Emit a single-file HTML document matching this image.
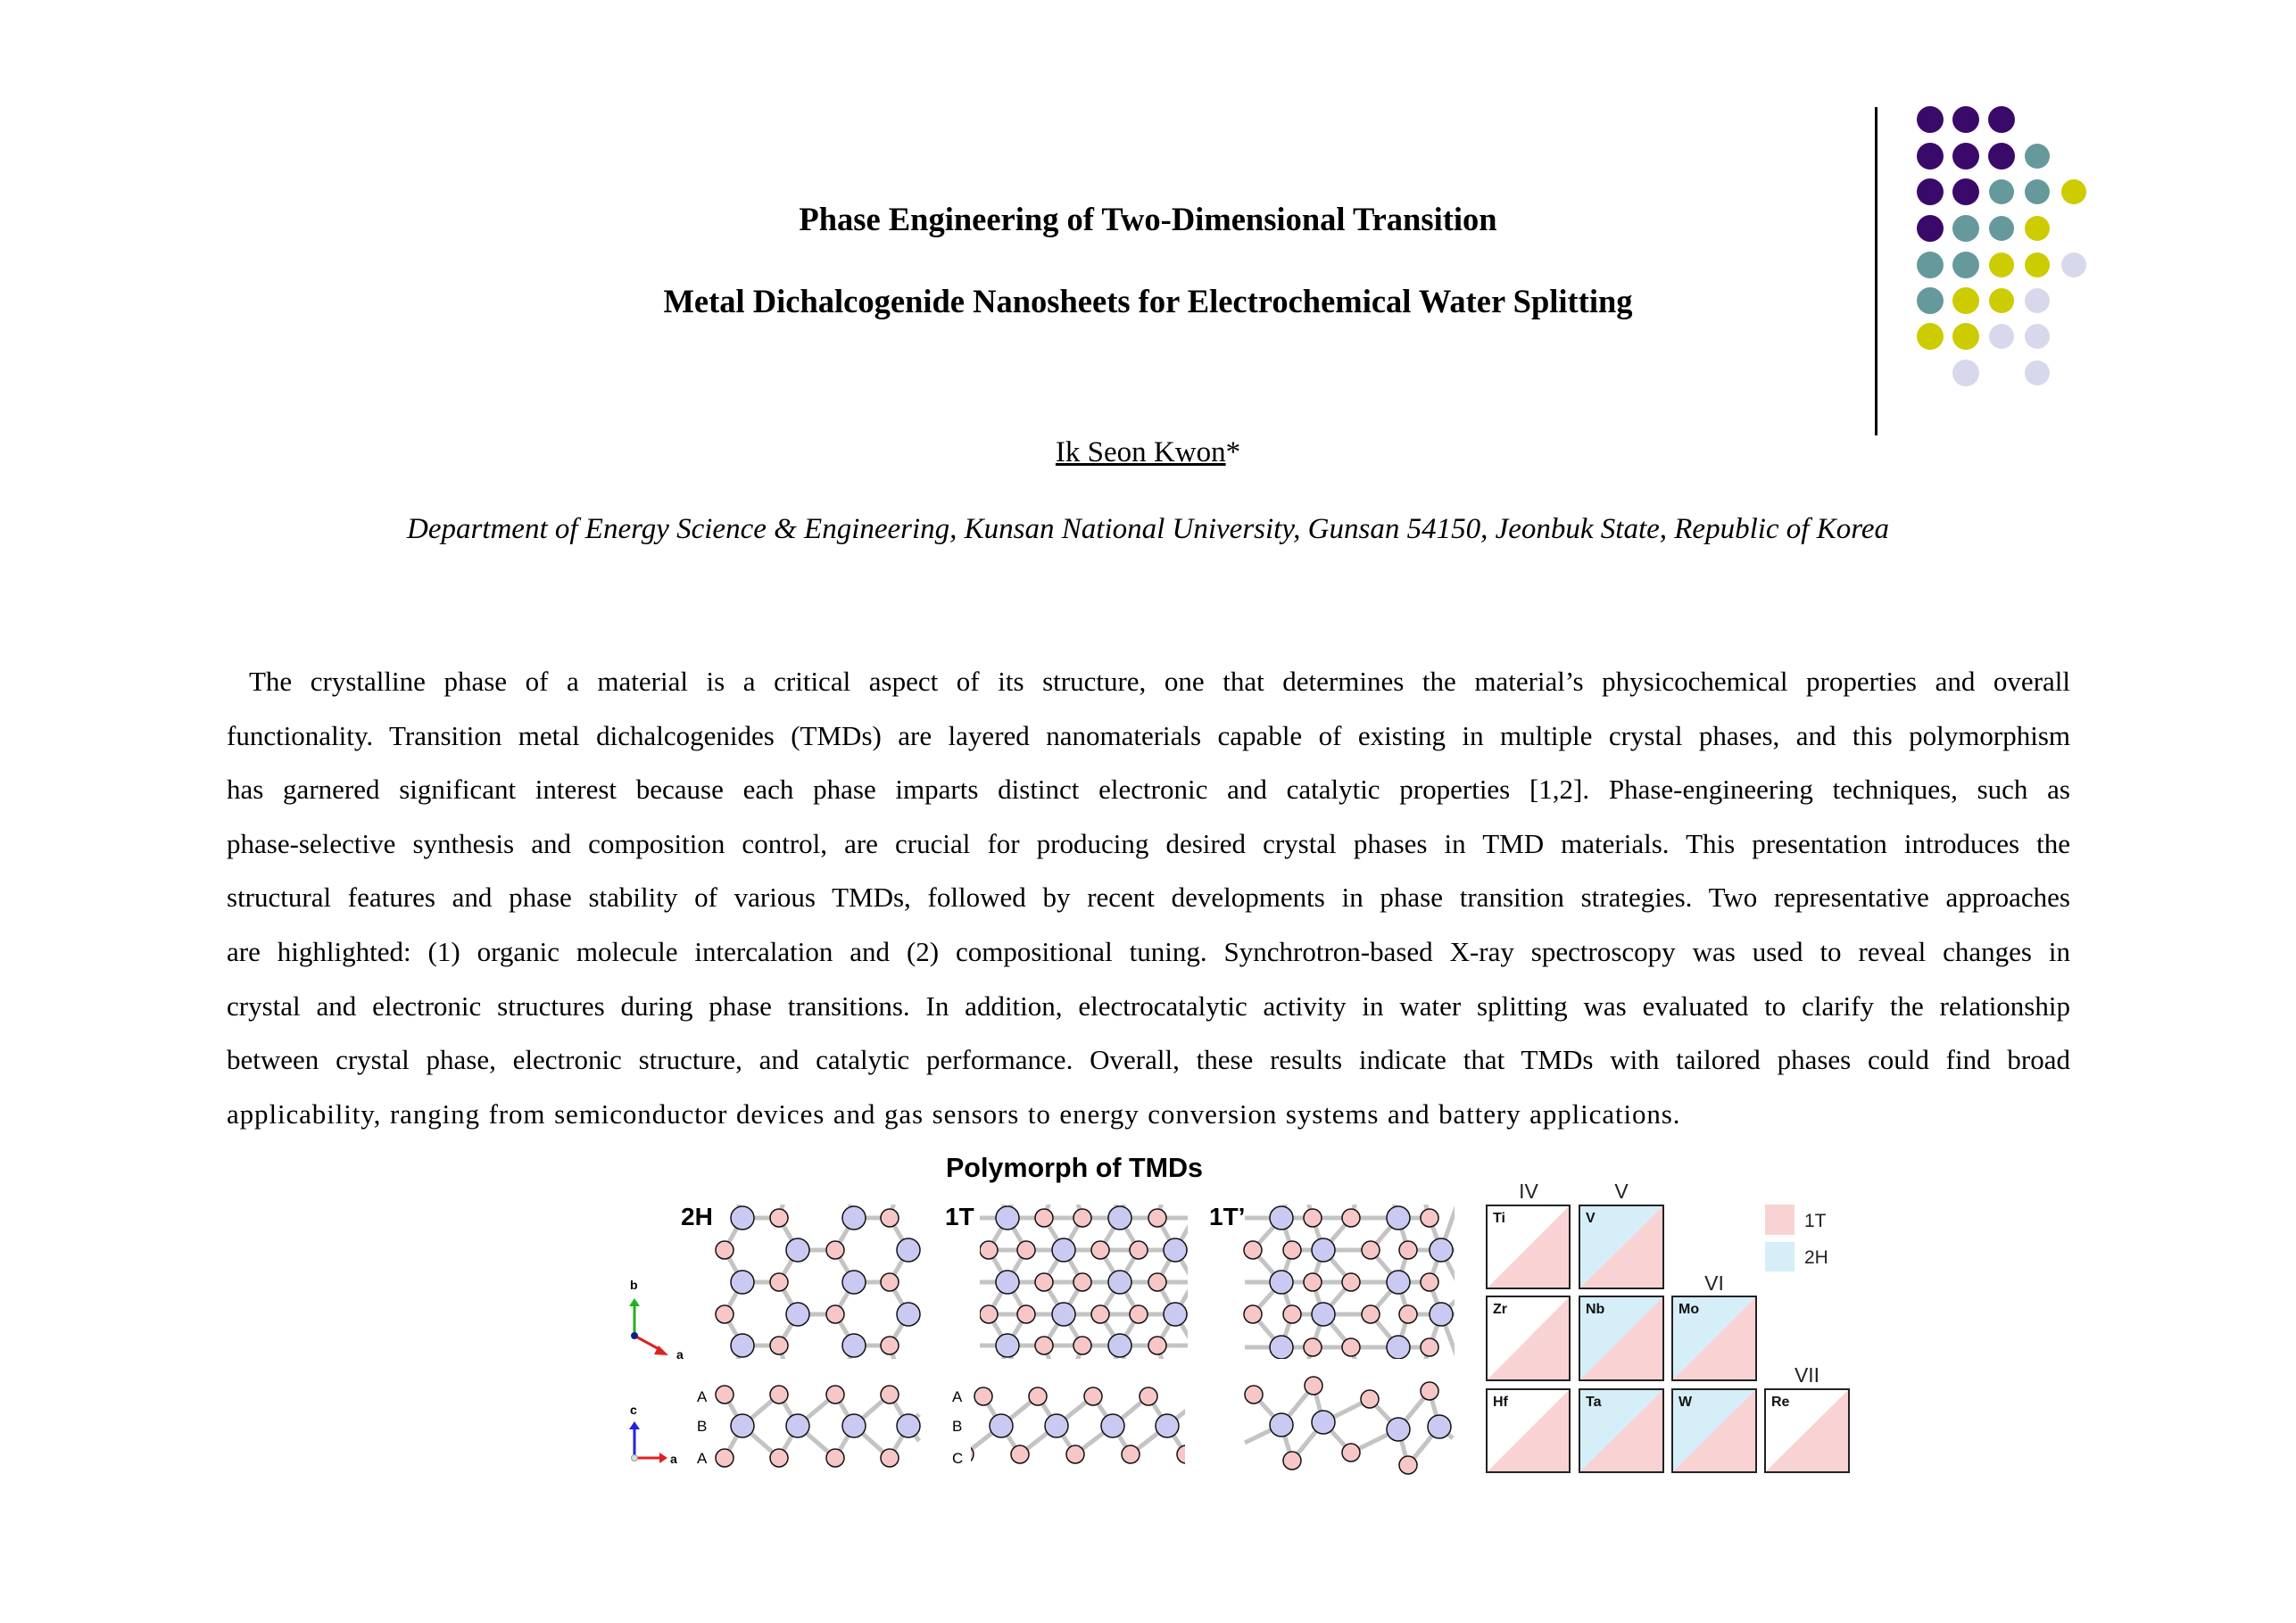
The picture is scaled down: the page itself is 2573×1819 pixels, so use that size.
<!DOCTYPE html>
<html><head><meta charset="utf-8">
<style>
html,body{margin:0;padding:0;background:#fff;}
body{width:2573px;height:1819px;position:relative;overflow:hidden;font-family:"Liberation Serif",serif;color:#000;}
.abs{position:absolute;white-space:nowrap;line-height:1;}
.t{font-weight:bold;font-size:36.5px;left:0;width:2573px;text-align:center;}
#para{position:absolute;left:254px;top:734px;width:2066px;font-size:31px;line-height:60.6px;}
#para div{text-align:justify;text-align-last:justify;white-space:nowrap;}
#para div.last{text-align-last:left;}
.sans{font-family:"Liberation Sans",sans-serif;}
</style></head><body>
<div class="abs t" style="top:228px">Phase Engineering of Two-Dimensional Transition</div>
<div class="abs t" style="top:320px">Metal Dichalcogenide Nanosheets for Electrochemical Water Splitting</div>
<div class="abs" style="top:491px;left:0;width:2573px;text-align:center;font-size:33px"><u>Ik Seon Kwon</u>*</div>
<div class="abs" style="top:577px;left:0;width:2573px;text-align:center;font-size:33px;font-style:italic">Department of Energy Science &amp; Engineering, Kunsan National University, Gunsan 54150, Jeonbuk State, Republic of Korea</div>
<div id="para">
<div style="padding-left:25px">The crystalline phase of a material is a critical aspect of its structure, one that determines the material’s physicochemical properties and overall</div>
<div>functionality. Transition metal dichalcogenides (TMDs) are layered nanomaterials capable of existing in multiple crystal phases, and this polymorphism</div>
<div>has garnered significant interest because each phase imparts distinct electronic and catalytic properties [1,2]. Phase-engineering techniques, such as</div>
<div>phase-selective synthesis and composition control, are crucial for producing desired crystal phases in TMD materials. This presentation introduces the</div>
<div>structural features and phase stability of various TMDs, followed by recent developments in phase transition strategies. Two representative approaches</div>
<div>are highlighted: (1) organic molecule intercalation and (2) compositional tuning. Synchrotron-based X-ray spectroscopy was used to reveal changes in</div>
<div>crystal and electronic structures during phase transitions. In addition, electrocatalytic activity in water splitting was evaluated to clarify the relationship</div>
<div>between crystal phase, electronic structure, and catalytic performance. Overall, these results indicate that TMDs with tailored phases could find broad</div>
<div class="last" style="letter-spacing:0.9px;word-spacing:1px">applicability, ranging from semiconductor devices and gas sensors to energy conversion systems and battery applications.</div>
</div>
<div class="abs sans" style="top:1294px;left:954px;width:500px;text-align:center;font-size:30.5px;font-weight:bold">Polymorph of TMDs</div>

<svg style="position:absolute;left:0;top:0" width="2573" height="1819" xmlns="http://www.w3.org/2000/svg">
<defs>
<clipPath id="c2h"><rect x="795" y="1350" width="240" height="173"/></clipPath>
<clipPath id="c1t"><rect x="1098" y="1350" width="233" height="173"/></clipPath>
<clipPath id="c1tp"><rect x="1390" y="1350" width="240" height="173"/></clipPath>
<clipPath id="s1t"><rect x="1088" y="1545" width="240" height="105"/></clipPath>
</defs>
<rect x="2101" y="120" width="3" height="368" fill="#000"/>
<g>
<circle cx="2163" cy="134" r="15" fill="#3a0a6a"/><circle cx="2203" cy="134" r="15" fill="#3a0a6a"/><circle cx="2243" cy="134" r="15" fill="#3a0a6a"/>
<circle cx="2163" cy="175" r="15" fill="#3a0a6a"/><circle cx="2203" cy="175" r="15" fill="#3a0a6a"/><circle cx="2243" cy="175" r="15" fill="#3a0a6a"/><circle cx="2283" cy="175" r="14" fill="#66999b"/>
<circle cx="2163" cy="215" r="15" fill="#3a0a6a"/><circle cx="2203" cy="215" r="15" fill="#3a0a6a"/><circle cx="2243" cy="215" r="14" fill="#66999b"/><circle cx="2283" cy="215" r="14" fill="#66999b"/><circle cx="2324" cy="215" r="14" fill="#cccc00"/>
<circle cx="2163" cy="256" r="15" fill="#3a0a6a"/><circle cx="2203" cy="256" r="15" fill="#66999b"/><circle cx="2243" cy="256" r="14" fill="#66999b"/><circle cx="2283" cy="256" r="14" fill="#cccc00"/>
<circle cx="2163" cy="297" r="15" fill="#66999b"/><circle cx="2203" cy="297" r="15" fill="#66999b"/><circle cx="2243" cy="297" r="14" fill="#cccc00"/><circle cx="2283" cy="297" r="14" fill="#cccc00"/><circle cx="2324" cy="297" r="14" fill="#d8d8ec"/>
<circle cx="2163" cy="337" r="15" fill="#66999b"/><circle cx="2203" cy="337" r="15" fill="#cccc00"/><circle cx="2243" cy="337" r="14" fill="#cccc00"/><circle cx="2283" cy="337" r="14" fill="#d8d8ec"/>
<circle cx="2163" cy="377" r="15" fill="#cccc00"/><circle cx="2203" cy="377" r="15" fill="#cccc00"/><circle cx="2243" cy="377" r="14" fill="#d8d8ec"/><circle cx="2283" cy="377" r="14" fill="#d8d8ec"/>
<circle cx="2203" cy="418" r="15" fill="#d8d8ec"/><circle cx="2283" cy="418" r="14" fill="#d8d8ec"/>
</g>

<g stroke-width="3" fill="none">
<line x1="711" y1="1497" x2="711" y2="1462" stroke="#22b022"/><polygon points="705,1464 717,1464 711,1455" fill="#22b022" stroke="none"/>
<line x1="711" y1="1497" x2="742" y2="1514" stroke="#dd2222"/><polygon points="738,1508 733,1518 749,1519" fill="#dd2222" stroke="none"/>
<circle cx="711" cy="1497" r="4" fill="#102080" stroke="none"/>
<line x1="711" y1="1634" x2="711" y2="1600" stroke="#2222dd"/><polygon points="705,1602 717,1602 711,1593" fill="#2222dd" stroke="none"/>
<line x1="711" y1="1634" x2="741" y2="1634" stroke="#dd2222"/><polygon points="739,1628 739,1640 748,1634" fill="#dd2222" stroke="none"/>
<circle cx="711" cy="1634" r="3.5" fill="#ddd" stroke="#999" stroke-width="1"/>
</g>
<g font-family="Liberation Sans, sans-serif" font-weight="bold" font-size="14">
<text x="706" y="1445">b</text><text x="758" y="1523">a</text>
<text x="706" y="1585">c</text><text x="751" y="1640">a</text>
</g>
<g font-family="Liberation Sans, sans-serif" font-weight="bold" font-size="28">
<text x="763" y="1373">2H</text><text x="1059" y="1373">1T</text><text x="1355" y="1373">1T’</text>
</g>
<g font-family="Liberation Sans, sans-serif" font-size="17">
<text x="781" y="1571">A</text><text x="781" y="1604">B</text><text x="781" y="1640">A</text>
<text x="1067" y="1571">A</text><text x="1067" y="1604">B</text><text x="1067" y="1640">C</text>
</g>

<g clip-path="url(#c2h)">
<g stroke="#c4c4c4" stroke-width="5">
<line x1="832" y1="1365" x2="873" y2="1365"/><line x1="957" y1="1365" x2="997" y2="1365"/>
<line x1="832" y1="1437" x2="873" y2="1437"/><line x1="957" y1="1437" x2="997" y2="1437"/>
<line x1="832" y1="1508" x2="873" y2="1508"/><line x1="957" y1="1508" x2="997" y2="1508"/>
<line x1="894" y1="1401" x2="936" y2="1401"/><line x1="894" y1="1473" x2="936" y2="1473"/>
<polyline fill="none" points="822,1330 832,1365 812,1401 832,1437 812,1473 832,1508 822,1540"/>
<polyline fill="none" points="883,1330 873,1365 894,1401 873,1437 894,1473 873,1508 883,1540"/>
<polyline fill="none" points="947,1330 957,1365 936,1401 957,1437 936,1473 957,1508 947,1540"/>
<polyline fill="none" points="1007,1330 997,1365 1018,1401 997,1437 1018,1473 997,1508 1007,1540"/>
</g>
<g stroke="#111" stroke-width="1.5">
<g fill="#c9c9f2">
<circle cx="832" cy="1365" r="13"/><circle cx="957" cy="1365" r="13"/><circle cx="832" cy="1437" r="13"/><circle cx="957" cy="1437" r="13"/><circle cx="832" cy="1508" r="13"/><circle cx="957" cy="1508" r="13"/>
<circle cx="894" cy="1401" r="13"/><circle cx="1018" cy="1401" r="13"/><circle cx="894" cy="1473" r="13"/><circle cx="1018" cy="1473" r="13"/>
</g>
<g fill="#f7c6c6">
<circle cx="873" cy="1365" r="10"/><circle cx="997" cy="1365" r="10"/><circle cx="873" cy="1437" r="10"/><circle cx="997" cy="1437" r="10"/><circle cx="873" cy="1508" r="10"/><circle cx="997" cy="1508" r="10"/>
<circle cx="812" cy="1401" r="10"/><circle cx="936" cy="1401" r="10"/><circle cx="812" cy="1473" r="10"/><circle cx="936" cy="1473" r="10"/>
</g></g>
</g>

<g stroke="#c4c4c4" stroke-width="5" fill="none">
<polyline points="812,1563 832,1598 873,1563 894,1598 936,1563 957,1598 997,1563 1018,1598 1030,1585"/>
<polyline points="812,1634 832,1598 873,1634 894,1598 936,1634 957,1598 997,1634 1018,1598 1030,1615"/>
</g>
<g stroke="#111" stroke-width="1.5">
<g fill="#c9c9f2"><circle cx="832" cy="1598" r="13"/><circle cx="894" cy="1598" r="13"/><circle cx="957" cy="1598" r="13"/><circle cx="1018" cy="1598" r="13"/></g>
<g fill="#f7c6c6"><circle cx="812" cy="1563" r="10"/><circle cx="873" cy="1563" r="10"/><circle cx="936" cy="1563" r="10"/><circle cx="997" cy="1563" r="10"/>
<circle cx="812" cy="1634" r="10"/><circle cx="873" cy="1634" r="10"/><circle cx="936" cy="1634" r="10"/><circle cx="997" cy="1634" r="10"/></g>
</g>

<g clip-path="url(#c1t)">
<g stroke="#c4c4c4" stroke-width="5" fill="none">
<line x1="1090" y1="1365" x2="1340" y2="1365"/><line x1="1090" y1="1401" x2="1340" y2="1401"/><line x1="1090" y1="1437" x2="1340" y2="1437"/><line x1="1090" y1="1473" x2="1340" y2="1473"/><line x1="1090" y1="1508" x2="1340" y2="1508"/>
<polyline points="1119,1330 1129,1365 1108,1401 1129,1437 1108,1473 1129,1508 1119,1540"/>
<polyline points="1139,1330 1129,1365 1150,1401 1129,1437 1150,1473 1129,1508 1139,1540"/>
<polyline points="1182,1330 1170,1365 1192,1401 1170,1437 1192,1473 1170,1508 1182,1540"/>
<polyline points="1202,1330 1213,1365 1192,1401 1213,1437 1192,1473 1213,1508 1202,1540"/>
<polyline points="1245,1330 1255,1365 1233,1401 1255,1437 1233,1473 1255,1508 1245,1540"/>
<polyline points="1265,1330 1255,1365 1276,1401 1255,1437 1276,1473 1255,1508 1265,1540"/>
<polyline points="1307,1330 1297,1365 1317,1401 1297,1437 1317,1473 1297,1508 1307,1540"/>
<polyline points="1327,1330 1338,1365 1317,1401 1338,1437 1317,1473 1338,1508"/>
</g>
<g stroke="#111" stroke-width="1.5">
<g fill="#c9c9f2">
<circle cx="1129" cy="1365" r="13"/><circle cx="1255" cy="1365" r="13"/><circle cx="1129" cy="1437" r="13"/><circle cx="1255" cy="1437" r="13"/><circle cx="1129" cy="1508" r="13"/><circle cx="1255" cy="1508" r="13"/>
<circle cx="1192" cy="1401" r="13"/><circle cx="1317" cy="1401" r="13"/><circle cx="1192" cy="1473" r="13"/><circle cx="1317" cy="1473" r="13"/>
</g>
<g fill="#f7c6c6">
<circle cx="1170" cy="1365" r="10"/><circle cx="1213" cy="1365" r="10"/><circle cx="1297" cy="1365" r="10"/>
<circle cx="1170" cy="1437" r="10"/><circle cx="1213" cy="1437" r="10"/><circle cx="1297" cy="1437" r="10"/>
<circle cx="1170" cy="1508" r="10"/><circle cx="1213" cy="1508" r="10"/><circle cx="1297" cy="1508" r="10"/>
<circle cx="1108" cy="1401" r="10"/><circle cx="1150" cy="1401" r="10"/><circle cx="1233" cy="1401" r="10"/><circle cx="1276" cy="1401" r="10"/>
<circle cx="1108" cy="1473" r="10"/><circle cx="1150" cy="1473" r="10"/><circle cx="1233" cy="1473" r="10"/><circle cx="1276" cy="1473" r="10"/>
</g></g>
</g>

<g clip-path="url(#s1t)">
<g stroke="#c4c4c4" stroke-width="5" fill="none">
<line x1="1102" y1="1565" x2="1122" y2="1598"/><line x1="1122" y1="1598" x2="1163" y2="1565"/><line x1="1122" y1="1598" x2="1143" y2="1630"/><line x1="1122" y1="1598" x2="1081" y2="1630"/>
<line x1="1163" y1="1565" x2="1184" y2="1598"/><line x1="1184" y1="1598" x2="1225" y2="1565"/><line x1="1184" y1="1598" x2="1205" y2="1630"/><line x1="1184" y1="1598" x2="1143" y2="1630"/>
<line x1="1225" y1="1565" x2="1247" y2="1598"/><line x1="1247" y1="1598" x2="1287" y2="1565"/><line x1="1247" y1="1598" x2="1267" y2="1630"/><line x1="1247" y1="1598" x2="1205" y2="1630"/>
<line x1="1287" y1="1565" x2="1308" y2="1598"/><line x1="1308" y1="1598" x2="1349" y2="1565"/><line x1="1308" y1="1598" x2="1329" y2="1630"/><line x1="1308" y1="1598" x2="1267" y2="1630"/>
</g>
<g stroke="#111" stroke-width="1.5">
<g fill="#c9c9f2"><circle cx="1122" cy="1598" r="13"/><circle cx="1184" cy="1598" r="13"/><circle cx="1247" cy="1598" r="13"/><circle cx="1308" cy="1598" r="13"/></g>
<g fill="#f7c6c6"><circle cx="1102" cy="1565" r="10"/><circle cx="1163" cy="1565" r="10"/><circle cx="1225" cy="1565" r="10"/><circle cx="1287" cy="1565" r="10"/>
<circle cx="1143" cy="1630" r="10"/><circle cx="1205" cy="1630" r="10"/><circle cx="1267" cy="1630" r="10"/><circle cx="1329" cy="1630" r="10"/><circle cx="1081" cy="1630" r="10"/></g>
</g>
</g>

<g clip-path="url(#c1tp)">
<g stroke="#c4c4c4" stroke-width="5" fill="none">
<line x1="1395" y1="1365" x2="1602" y2="1365"/><line x1="1395" y1="1437" x2="1602" y2="1437"/><line x1="1395" y1="1510" x2="1602" y2="1510"/>
<line x1="1448" y1="1401" x2="1536" y2="1401"/><line x1="1578" y1="1401" x2="1630" y2="1401"/>
<line x1="1448" y1="1473" x2="1536" y2="1473"/><line x1="1578" y1="1473" x2="1630" y2="1473"/>
<polyline points="1446,1330 1436,1365 1404,1401 1436,1437 1404,1473 1436,1510 1446,1540"/>
<polyline points="1436,1365 1448,1401 1436,1437 1448,1473 1436,1510"/>
<polyline points="1461,1330 1471,1365 1483,1401 1471,1437 1483,1473 1471,1510 1461,1540"/>
<polyline points="1524,1330 1514,1365 1483,1401 1514,1437 1483,1473 1514,1510 1524,1540"/>
<polyline points="1557,1330 1567,1365 1536,1401 1567,1437 1536,1473 1567,1510 1557,1540"/>
<polyline points="1567,1365 1578,1401 1567,1437 1578,1473 1567,1510"/>
<polyline points="1592,1330 1602,1365 1615,1401 1602,1437 1615,1473 1602,1510 1592,1540"/>
<polyline points="1640,1330 1615,1401 1640,1450 1615,1473 1640,1540"/>
</g>
<g stroke="#111" stroke-width="1.5">
<g fill="#c9c9f2">
<circle cx="1436" cy="1365" r="13"/><circle cx="1567" cy="1365" r="13"/><circle cx="1436" cy="1437" r="13"/><circle cx="1567" cy="1437" r="13"/><circle cx="1436" cy="1510" r="13"/><circle cx="1567" cy="1510" r="13"/>
<circle cx="1483" cy="1401" r="13"/><circle cx="1615" cy="1401" r="13"/><circle cx="1483" cy="1473" r="13"/><circle cx="1615" cy="1473" r="13"/>
</g>
<g fill="#f7c6c6">
<circle cx="1471" cy="1365" r="10"/><circle cx="1514" cy="1365" r="10"/><circle cx="1602" cy="1365" r="10"/>
<circle cx="1471" cy="1437" r="10"/><circle cx="1514" cy="1437" r="10"/><circle cx="1602" cy="1437" r="10"/>
<circle cx="1471" cy="1510" r="10"/><circle cx="1514" cy="1510" r="10"/><circle cx="1602" cy="1510" r="10"/>
<circle cx="1404" cy="1401" r="10"/><circle cx="1448" cy="1401" r="10"/><circle cx="1536" cy="1401" r="10"/><circle cx="1578" cy="1401" r="10"/>
<circle cx="1404" cy="1473" r="10"/><circle cx="1448" cy="1473" r="10"/><circle cx="1536" cy="1473" r="10"/><circle cx="1578" cy="1473" r="10"/>
</g></g>
</g>

<g stroke="#c4c4c4" stroke-width="5" fill="none">
<line x1="1395" y1="1617" x2="1436" y2="1597"/><line x1="1436" y1="1597" x2="1405" y2="1563"/><line x1="1436" y1="1597" x2="1472" y2="1553"/><line x1="1436" y1="1597" x2="1448" y2="1637"/>
<line x1="1483" y1="1594" x2="1472" y2="1553"/><line x1="1483" y1="1594" x2="1448" y2="1637"/><line x1="1483" y1="1594" x2="1535" y2="1568"/><line x1="1483" y1="1594" x2="1514" y2="1628"/>
<line x1="1514" y1="1628" x2="1567" y2="1602"/><line x1="1535" y1="1568" x2="1567" y2="1602"/><line x1="1567" y1="1602" x2="1602" y2="1559"/><line x1="1567" y1="1602" x2="1578" y2="1642"/>
<line x1="1613" y1="1599" x2="1602" y2="1559"/><line x1="1613" y1="1599" x2="1578" y2="1642"/><line x1="1613" y1="1599" x2="1628" y2="1612"/>
</g>
<g stroke="#111" stroke-width="1.5">
<g fill="#c9c9f2"><circle cx="1436" cy="1597" r="13"/><circle cx="1483" cy="1594" r="13"/><circle cx="1567" cy="1602" r="13"/><circle cx="1613" cy="1599" r="13"/></g>
<g fill="#f7c6c6"><circle cx="1405" cy="1563" r="10"/><circle cx="1472" cy="1553" r="10"/><circle cx="1448" cy="1637" r="10"/><circle cx="1535" cy="1568" r="10"/><circle cx="1514" cy="1628" r="10"/><circle cx="1602" cy="1559" r="10"/><circle cx="1578" cy="1642" r="10"/></g>
</g>

<g stroke="none">
<polygon points="1666,1444 1759,1351 1759,1444" fill="#f9d3d3"/>
<polygon points="1770,1351 1864,1351 1770,1444" fill="#d5eef8"/><polygon points="1770,1444 1864,1351 1864,1444" fill="#f9d3d3"/>
<polygon points="1666,1547 1759,1453 1759,1547" fill="#f9d3d3"/>
<polygon points="1770,1453 1864,1453 1770,1547" fill="#d5eef8"/><polygon points="1770,1547 1864,1453 1864,1547" fill="#f9d3d3"/>
<polygon points="1874,1453 1968,1453 1874,1547" fill="#d5eef8"/><polygon points="1874,1547 1968,1453 1968,1547" fill="#f9d3d3"/>
<polygon points="1666,1650 1759,1557 1759,1650" fill="#f9d3d3"/>
<polygon points="1770,1557 1864,1557 1770,1650" fill="#d5eef8"/><polygon points="1770,1650 1864,1557 1864,1650" fill="#f9d3d3"/>
<polygon points="1874,1557 1968,1557 1874,1650" fill="#d5eef8"/><polygon points="1874,1650 1968,1557 1968,1650" fill="#f9d3d3"/>
<polygon points="1978,1650 2072,1557 2072,1650" fill="#f9d3d3"/>
<rect x="1978" y="1350" width="33" height="34" fill="#f9d3d3"/><rect x="1978" y="1392" width="33" height="33" fill="#d5eef8"/>
</g>
<g fill="none" stroke="#222" stroke-width="2">
<rect x="1666" y="1351" width="93" height="93"/><rect x="1770" y="1351" width="94" height="93"/>
<rect x="1666" y="1453" width="93" height="94"/><rect x="1770" y="1453" width="94" height="94"/><rect x="1874" y="1453" width="94" height="94"/>
<rect x="1666" y="1557" width="93" height="93"/><rect x="1770" y="1557" width="94" height="93"/><rect x="1874" y="1557" width="94" height="93"/><rect x="1978" y="1557" width="94" height="93"/>
</g>
<g font-family="Liberation Sans, sans-serif" font-weight="bold" font-size="16" fill="#111">
<text x="1673" y="1370">Ti</text><text x="1777" y="1370">V</text>
<text x="1673" y="1472">Zr</text><text x="1777" y="1472">Nb</text><text x="1881" y="1472">Mo</text>
<text x="1673" y="1576">Hf</text><text x="1777" y="1576">Ta</text><text x="1881" y="1576">W</text><text x="1985" y="1576">Re</text>
</g>
<g font-family="Liberation Sans, sans-serif" font-size="23" fill="#222" text-anchor="middle">
<text x="1713" y="1343">IV</text><text x="1817" y="1343">V</text><text x="1921" y="1446">VI</text><text x="2025" y="1549">VII</text>
</g>
<g font-family="Liberation Sans, sans-serif" font-size="21" fill="#222">
<text x="2022" y="1375">1T</text><text x="2022" y="1416">2H</text>
</g>
</svg>
</body></html>
